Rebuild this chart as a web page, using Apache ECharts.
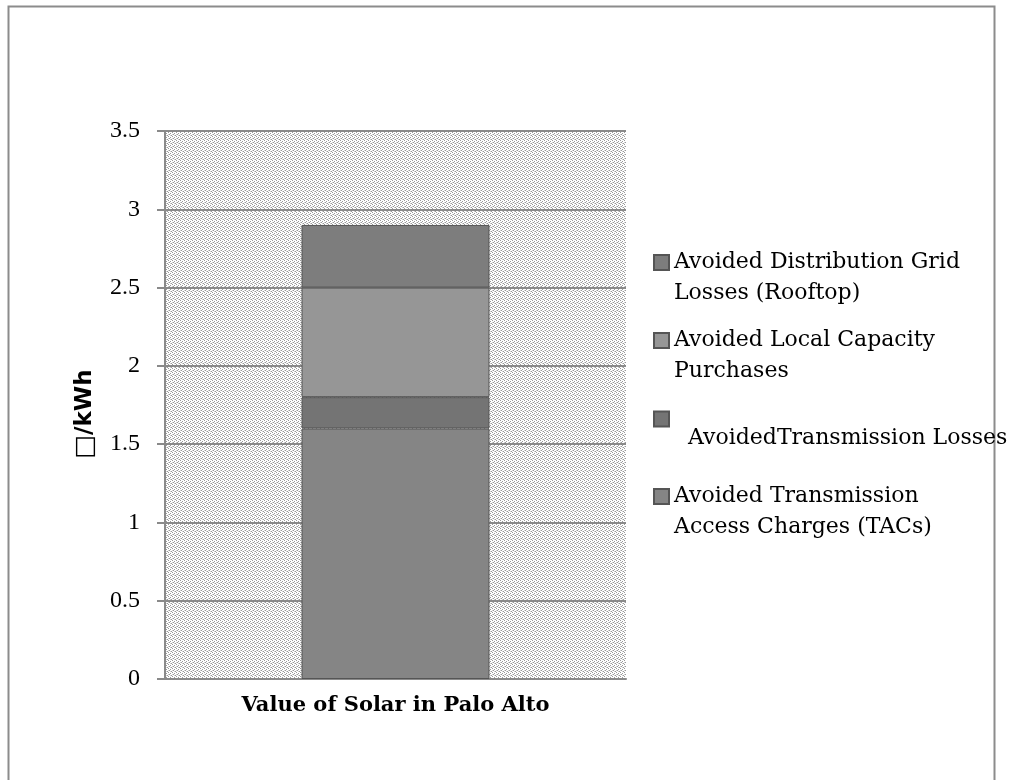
<!DOCTYPE html>
<html>
<head>
<meta charset="utf-8">
<script src="https://cdn.jsdelivr.net/npm/echarts@6/dist/echarts.min.js"></script>
<style>
  html, body { margin: 0; padding: 0; background: #fff; }
  #SolarValue { width: 1034px; height: 780px; }
</style>
</head>
<body>
<div id="SolarValue"></div>
<script>
// 数据
var categories = ['Value of Solar in Palo Alto'];
var seriesNames = [
    'Avoided Transmission Access Charges (TACs)',
    'AvoidedTransmission Losses',
    'Avoided Local Capacity Purchases',
    'Avoided Distribution Grid Losses (Rooftop)'
];
var tacs = [1.6];
var transLosses = [0.2];
var localCapacity = [0.7];
var distLosses = [0.4];
var yTicks = [0, 0.5, 1, 1.5, 2, 2.5, 3, 3.5];

var colors = ['#858585', '#747474', '#969696', '#7d7d7d'];
var serif = '"Liberation Serif", "DejaVu Serif", serif';
var wideSerif = '"DejaVu Serif", serif';

// 点状背景纹理
function dotPattern() {
    var c = document.createElement('canvas');
    c.width = 4; c.height = 4;
    var ctx = c.getContext('2d');
    ctx.fillStyle = '#ffffff';
    ctx.fillRect(0, 0, 4, 4);
    ctx.fillStyle = '#999999';
    [[0, 0], [2, 1], [1, 2], [3, 3]].forEach(function (p) { ctx.fillRect(p[0], p[1], 1, 1); });
    ctx.fillStyle = '#d0d0d0';
    [[2, 3], [0, 2]].forEach(function (p) { ctx.fillRect(p[0], p[1], 1, 1); });
    return c;
}

// 图例文字是居中对齐的, 多加一空行让图标对齐第一行
function legendAt(name, top, label, lh) {
    return {
        left: 653,
        top: top,
        padding: 0,
        orient: 'vertical',
        icon: 'rect',
        itemWidth: 15,
        itemHeight: 15,
        itemGap: 0,
        data: [name],
        formatter: function () { return label; },
        textStyle: {
            fontFamily: wideSerif,
            fontSize: 22,
            color: '#000',
            lineHeight: lh
        }
    };
}

var myChart = echarts.init(document.getElementById('SolarValue'));

var option = {
    animation: false,
    graphic: [{
        type: 'rect',
        left: 6,
        top: 4,
        z: -10,
        shape: { width: 986, height: 800 },
        style: { fill: 'none', stroke: '#8c8c8c', lineWidth: 2 }
    }],
    legend: [
        legendAt(seriesNames[3], 216, ' \nAvoided Distribution Grid\nLosses (Rooftop)', 31),
        legendAt(seriesNames[2], 294, ' \nAvoided Local Capacity\nPurchases', 31),
        legendAt(seriesNames[1], 389, ' \n \n  AvoidedTransmission Losses', 19),
        legendAt(seriesNames[0], 450, ' \nAvoided Transmission\nAccess Charges (TACs)', 31)
    ],
    grid: {
        left: 165,
        right: 408,
        top: 131,
        bottom: 101,
        show: true,
        backgroundColor: { image: dotPattern(), repeat: 'repeat' },
        borderWidth: 0
    },
    xAxis: {
        type: 'category',
        data: categories,
        axisLine: { lineStyle: { color: '#8a8a8a', width: 2 } },
        axisTick: { show: false },
        axisLabel: {
            margin: 16,
            fontFamily: wideSerif,
            fontWeight: 'bold',
            fontSize: 21,
            color: '#000'
        }
    },
    yAxis: {
        type: 'value',
        min: 0,
        max: 3.5,
        interval: 0.5,
        name: '{box|□}/kWh',
        nameLocation: 'middle',
        nameGap: 67,
        nameRotate: 90,
        nameTextStyle: {
            fontFamily: '"DejaVu Sans", sans-serif',
            fontWeight: 'bold',
            fontSize: 23,
            color: '#000',
            padding: [0, 18, 0, 0],
            rich: {
                box: {
                    fontFamily: '"DejaVu Sans", sans-serif',
                    fontWeight: 'normal',
                    fontSize: 25,
                    color: '#000'
                }
            }
        },
        axisLine: { show: true, lineStyle: { color: '#8a8a8a', width: 2 } },
        axisTick: { show: true, length: 8, lineStyle: { color: '#8a8a8a', width: 2 } },
        splitLine: { lineStyle: { color: '#8a8a8a', width: 2 } },
        axisLabel: {
            margin: 25,
            fontFamily: serif,
            fontSize: 24,
            color: '#000',
            formatter: function (v) { return yTicks.indexOf(v) >= 0 ? String(v) : ''; }
        }
    },
    series: [
        { name: seriesNames[0], type: 'bar', stack: 'v', data: tacs },
        { name: seriesNames[1], type: 'bar', stack: 'v', data: transLosses },
        { name: seriesNames[2], type: 'bar', stack: 'v', data: localCapacity },
        { name: seriesNames[3], type: 'bar', stack: 'v', data: distLosses }
    ].map(function (s, i) {
        s.barWidth = 188;
        s.itemStyle = { color: colors[i], borderColor: '#555', borderWidth: 1 };
        return s;
    })
};

myChart.setOption(option);
</script>
</body>
</html>
